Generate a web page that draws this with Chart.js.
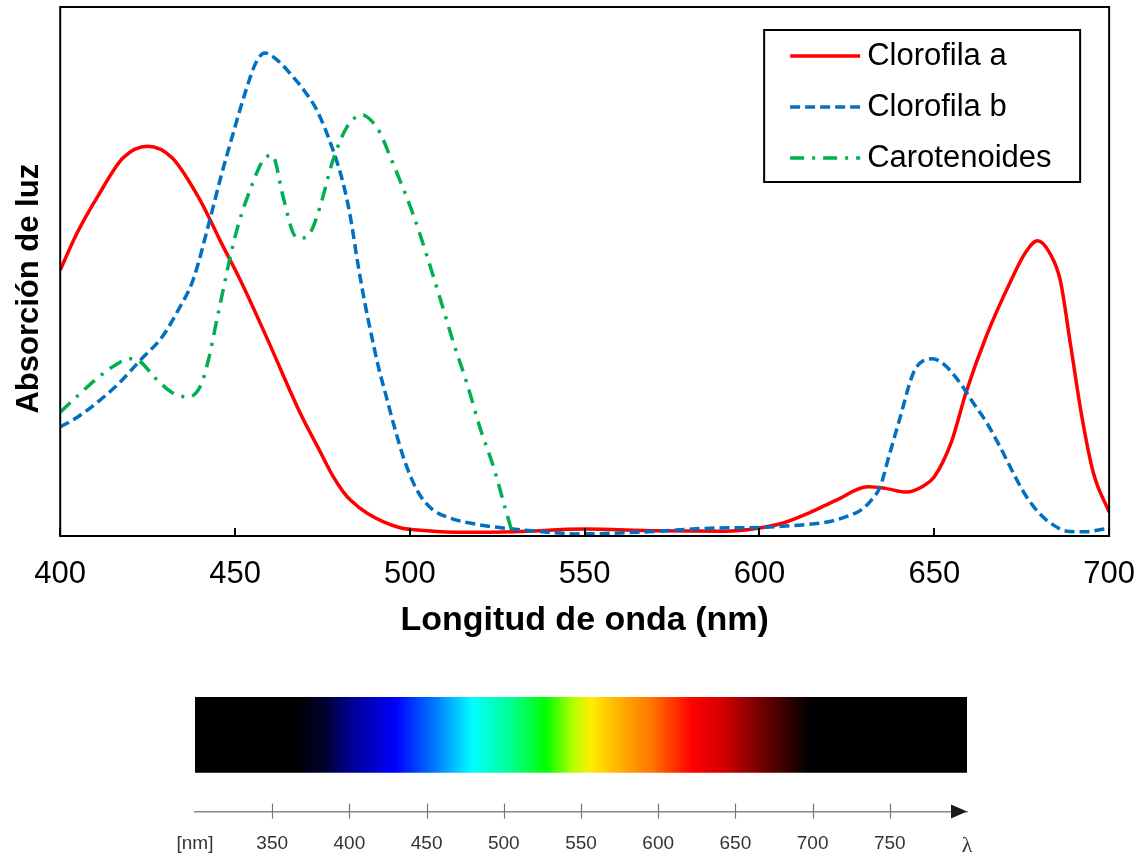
<!DOCTYPE html>
<html>
<head>
<meta charset="utf-8">
<script src="https://cdn.jsdelivr.net/npm/chart.js@4.4.0/dist/chart.umd.min.js"></script>
<style>
  html, body { margin: 0; background: #fff; overflow: hidden; }
  #wrapA { position: absolute; left: 0; top: 0; }
  #wrapB { position: absolute; left: 0; top: 650px; }
</style>
</head>
<body>
<div id="wrapA"><canvas id="absorb" width="1139" height="660"></canvas></div>
<div id="wrapB"><canvas id="spectrum" width="1139" height="230"></canvas></div>
<script>
// absorption curves (nm, relative absorption 0-100)
const clorofilaA_nm = [400, 405, 411, 418, 425, 432, 440, 446, 451.5, 459, 468.6, 474.3, 478, 481, 483, 487.8, 497, 505, 515, 530, 550, 570, 590, 600, 607, 614, 622, 631, 636, 642, 647, 650, 655, 659, 665, 672, 676, 679.5, 683, 686, 689, 692, 695.5, 700];
const clorofilaA_val = [50.3, 57.5, 64.5, 71.5, 73.7, 71.5, 63.5, 55.5, 48.4, 37.6, 23.3, 16, 11.3, 8.3, 6.8, 4.3, 1.6, 1.0, 0.7, 0.8, 1.3, 1.0, 0.9, 1.5, 2.5, 4.3, 6.8, 9.3, 9.0, 8.3, 9.5, 11.2, 18, 27, 38, 48.4, 53.5, 55.8, 53.5, 48.4, 36, 23.3, 11.9, 4.5];

const clorofilaB_nm = [400, 405, 411.4, 417, 423, 429, 434, 438, 443, 446, 449.5, 453, 456, 458.5, 462, 466.6, 470, 473.4, 478, 481, 483, 485, 487, 489, 491, 493, 495.5, 498, 500.5, 503, 506.5, 510.6, 520, 530, 549, 568, 587, 600, 610, 619, 625, 629, 632, 634.5, 637, 640, 644, 647, 649.5, 653, 657.4, 661, 665, 669, 672.6, 676, 680, 684, 688, 693, 700];
const clorofilaB_val = [20.6, 22.5, 25.7, 29, 33.3, 37.5, 43, 48.4, 60.3, 68, 76.2, 84, 89.5, 91.3, 90, 86.8, 84, 80.5, 73, 66.5, 60.3, 52, 44.5, 38, 32, 27, 20.8, 15.2, 10.8, 7.6, 5.0, 3.6, 2.1, 1.3, 0.4, 0.8, 1.5, 1.6, 2.0, 2.6, 3.7, 4.9, 6.8, 9.3, 15, 21.9, 30.8, 33.2, 33.5, 32.3, 28.9, 25.3, 21.4, 16.6, 11.9, 7.8, 4.3, 2.1, 0.9, 0.8, 1.5];

const carotenoides_nm = [400, 405, 410, 415, 420, 423, 427, 432.3, 436.6, 440, 442.4, 444.9, 446.6, 448.6, 451, 454.3, 458, 460.6, 463.8, 466.6, 468.6, 471.5, 474.3, 478, 482, 486.4, 489, 491.5, 494.5, 497, 501, 505, 508.7, 512.4, 516.4, 520, 524, 527.5, 529.6];
const carotenoides_val = [23.4, 26.5, 29.5, 32, 33.5, 32.9, 30, 27, 26.3, 28.2, 33.3, 41.2, 46.5, 52.7, 59, 65.4, 71, 72, 64, 57.3, 56.3, 57.3, 62.2, 71, 77.3, 79.6, 78.5, 76.2, 71.5, 67.5, 60.7, 52.7, 44.8, 36.7, 28.7, 20.6, 12.9, 4.7, 0];

const seriesNames = ["Clorofila a", "Clorofila b", "Carotenoides"];

// visible spectrum strip (nm -> colour)
const spectrumStops = [300, 365, 385, 400, 430, 455, 480, 505, 527, 545, 556, 575, 595, 622, 645, 665, 685, 698, 800];
const spectrumColors = ["#000000", "#000000", "#000033", "#00008c", "#0000ff", "#0078ff", "#00ffff", "#00ff90", "#00ff00", "#b4ff00", "#ffee00", "#ffb000", "#ff7800", "#ff0000", "#c80000", "#780000", "#300000", "#000000", "#000000"];
const spectrumTicks = [300, 350, 400, 450, 500, 550, 600, 650, 700, 750, 800];

const FONT = '"Liberation Sans", Arial, sans-serif';

const toPoints = (xs, ys) => xs.map((x, i) => ({ x: x, y: ys[i] }));

// box round the plot + small inner ticks
const frame = {
  id: "frame",
  afterDatasetsDraw(chart) {
    const { ctx, chartArea } = chart;
    const xs = chart.scales.x;
    ctx.save();
    ctx.strokeStyle = "#000";
    ctx.lineWidth = 2;
    ctx.strokeRect(chartArea.left, chartArea.top, chartArea.right - chartArea.left, chartArea.bottom - chartArea.top);
    xs.ticks.forEach(t => {
      const px = Math.round(xs.getPixelForValue(t.value));
      ctx.beginPath();
      ctx.moveTo(px, chartArea.bottom);
      ctx.lineTo(px, chartArea.bottom - 8);
      ctx.stroke();
    });
    ctx.restore();
  }
};

// legend box inside the plot, top right
const legendBox = {
  id: "legendBox",
  afterDraw(chart) {
    const { ctx, chartArea } = chart;
    const right = chartArea.right - 29;
    const left = right - 316;
    const top = chartArea.top + 23;
    ctx.save();
    ctx.fillStyle = "#fff";
    ctx.fillRect(left, top, 316, 152);
    ctx.strokeStyle = "#000";
    ctx.lineWidth = 2;
    ctx.strokeRect(left, top, 316, 152);
    chart.data.datasets.forEach((ds, i) => {
      const y = top + 26 + i * 51;
      ctx.beginPath();
      ctx.setLineDash(ds.borderDash || []);
      ctx.lineWidth = ds.borderWidth;
      ctx.strokeStyle = ds.borderColor;
      ctx.moveTo(left + 26, y);
      ctx.lineTo(left + 96, y);
      ctx.stroke();
      ctx.setLineDash([]);
      ctx.fillStyle = "#000";
      ctx.font = "31px " + FONT;
      ctx.textBaseline = "middle";
      ctx.fillText(ds.label, left + 103, y);
    });
    ctx.restore();
  }
};

const absorbChart = new Chart(document.getElementById("absorb").getContext("2d"), {
  type: "line",
  data: {
    datasets: [
      {
        label: seriesNames[0],
        data: toPoints(clorofilaA_nm, clorofilaA_val),
        borderColor: "#ff0000",
        borderWidth: 3.5,
        pointRadius: 0,
        cubicInterpolationMode: "monotone",
        order: 3
      },
      {
        label: seriesNames[1],
        data: toPoints(clorofilaB_nm, clorofilaB_val),
        borderColor: "#0070c0",
        borderWidth: 3.5,
        borderDash: [10, 5],
        pointRadius: 0,
        cubicInterpolationMode: "monotone",
        order: 2
      },
      {
        label: seriesNames[2],
        data: toPoints(carotenoides_nm, carotenoides_val),
        borderColor: "#00b050",
        borderWidth: 3.5,
        borderDash: [14, 8, 3, 8],
        pointRadius: 0,
        cubicInterpolationMode: "monotone",
        order: 1
      }
    ]
  },
  options: {
    responsive: false,
    animation: false,
    layout: { padding: { left: 0, top: 7, right: 12, bottom: 18 } },
    scales: {
      x: {
        type: "linear",
        min: 400,
        max: 700,
        ticks: { stepSize: 50, color: "#000", font: { family: FONT, size: 31 }, padding: 4 },
        grid: { display: false, drawTicks: true, tickLength: 16 },
        border: { display: false },
        title: {
          display: true,
          text: "Longitud de onda (nm)",
          color: "#000",
          font: { family: FONT, size: 34, weight: "bold" },
          padding: { top: 3, bottom: 1 }
        }
      },
      y: {
        type: "linear",
        min: 0,
        max: 100,
        ticks: { display: false },
        grid: { display: false, drawTicks: false },
        border: { display: false },
        title: {
          display: true,
          text: "Absorción de luz\u00a0\u00a0\u00a0\u00a0",
          color: "#000",
          font: { family: FONT, size: 31, weight: "bold" },
          padding: { top: 11, bottom: 12 }
        }
      }
    },
    plugins: {
      legend: { display: false },
      tooltip: { enabled: false }
    }
  },
  plugins: [frame, legendBox]
});

// axis marks crossing the line + arrow head
const spectrumAxis = {
  id: "spectrumAxis",
  afterDraw(chart) {
    const { ctx, chartArea } = chart;
    const xs = chart.scales.x;
    const yb = chartArea.bottom;
    ctx.save();
    ctx.strokeStyle = "#777";
    ctx.lineWidth = 1.2;
    xs.ticks.forEach(t => {
      if (t.value <= 300 || t.value >= 800) return;
      const px = Math.round(xs.getPixelForValue(t.value)) + 0.5;
      ctx.beginPath();
      ctx.moveTo(px, yb - 8);
      ctx.lineTo(px, yb + 7);
      ctx.stroke();
    });
    const tip = xs.getPixelForValue(800);
    ctx.fillStyle = "#1a1a1a";
    ctx.beginPath();
    ctx.moveTo(tip, yb);
    ctx.lineTo(tip - 16, yb - 7);
    ctx.lineTo(tip - 16, yb + 7);
    ctx.closePath();
    ctx.fill();
    ctx.restore();
  }
};

const spectrumChart = new Chart(document.getElementById("spectrum").getContext("2d"), {
  type: "line",
  data: {
    datasets: [
      {
        label: "espectro",
        data: [{ x: 300, y: 1 }, { x: 800, y: 1 }],
        borderWidth: 0,
        pointRadius: 0,
        fill: { value: 0.34 },
        backgroundColor: (context) => {
          const { ctx, chartArea, scales } = context.chart;
          if (!chartArea) return "#000";
          const x0 = scales.x.getPixelForValue(300);
          const x1 = scales.x.getPixelForValue(800);
          const g = ctx.createLinearGradient(x0, 0, x1, 0);
          spectrumStops.forEach((nm, i) => g.addColorStop((nm - 300) / 500, spectrumColors[i]));
          return g;
        }
      }
    ]
  },
  options: {
    responsive: false,
    animation: false,
    layout: { padding: { left: 195, top: 47, right: 172, bottom: 0 } },
    scales: {
      x: {
        type: "linear",
        min: 300,
        max: 800,
        afterBuildTicks: (scale) => { scale.ticks = spectrumTicks.map(v => ({ value: v })); },
        ticks: {
          autoSkip: false,
          maxRotation: 0,
          padding: 21,
          color: "#333",
          font: (c) => (c.tick && c.tick.value === 800)
            ? { family: '"Liberation Serif", serif', size: 22 }
            : { family: FONT, size: 19 },
          callback: (v) => v === 300 ? "[nm]" : (v === 800 ? "λ" : String(v))
        },
        grid: { display: false, drawTicks: false },
        border: { display: true, color: "#888", width: 1.5 }
      },
      y: { type: "linear", min: 0, max: 1, display: false }
    },
    plugins: {
      legend: { display: false },
      tooltip: { enabled: false }
    }
  },
  plugins: [spectrumAxis]
});
</script>
</body>
</html>
